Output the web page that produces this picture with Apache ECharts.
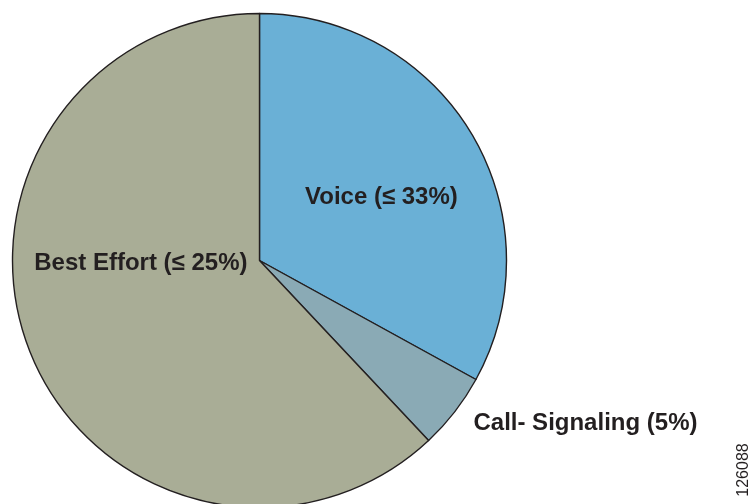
<!DOCTYPE html>
<html>
<head>
<meta charset="utf-8">
<script src="https://cdn.jsdelivr.net/npm/echarts@6/dist/echarts.min.js"></script>
<style>
html,body{margin:0;padding:0;background:#fff;}
#chart{width:749px;height:504px;}
</style>
</head>
<body>
<div id="chart"></div>
<script>
const categories = ['Voice', 'Call- Signaling', 'Best Effort'];
const shares = [33, 5, 62];
const labelTexts = ['Voice (\u2264 33%)', 'Call- Signaling (5%)', 'Best Effort (\u2264 25%)'];
const sliceColors = ['#6ab0d6', '#8aaab5', '#a9ad96'];
const labelOffsets = [[13, 1], [226, 85], [-1, -44]];
const figureId = '126088';

const chart = echarts.init(document.getElementById('chart'), null, {renderer: 'canvas'});
const data = categories.map((c, i) => ({
  name: c,
  value: shares[i],
  itemStyle: {color: sliceColors[i]},
  label: {formatter: labelTexts[i], offset: labelOffsets[i]}
}));
chart.setOption({
  animation: false,
  series: [{
    type: 'pie',
    center: [259.5, 260.5],
    radius: 247,
    startAngle: 90,
    clockwise: true,
    avoidLabelOverlap: false,
    itemStyle: {borderColor: '#231f20', borderWidth: 1.4},
    label: {
      show: true,
      position: 'inside',
      color: '#231f20',
      fontFamily: 'Liberation Sans, Arial, sans-serif',
      fontWeight: 'bold',
      fontSize: 24
    },
    labelLine: {show: false},
    emphasis: {disabled: true},
    data: data
  }],
  graphic: [{
    type: 'text',
    x: 744,
    y: 470,
    rotation: Math.PI / 2,
    style: {
      text: figureId,
      fill: '#231f20',
      font: '16px "Liberation Sans", Arial, sans-serif',
      align: 'center',
      verticalAlign: 'middle'
    }
  }]
});
</script>
</body>
</html>
